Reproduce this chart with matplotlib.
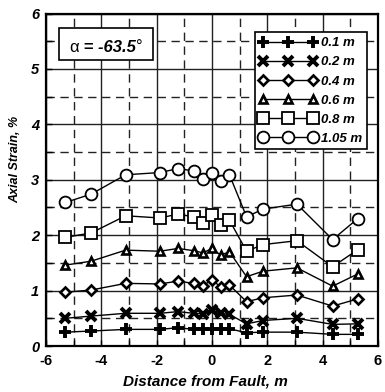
import matplotlib
matplotlib.use("Agg")
import matplotlib.pyplot as plt
from matplotlib.ticker import MultipleLocator
from matplotlib.patches import Rectangle

plt.rcParams['font.family'] = ['Liberation Sans', 'DejaVu Sans']
plt.rcParams['axes.unicode_minus'] = False

# Data
dist = [-5.3, -4.37, -3.12, -1.88, -1.24, -0.65, -0.33, 0.0, 0.31, 0.63,
        1.25, 1.84, 3.07, 4.36, 5.27]
s_01 = [0.25, 0.27, 0.30, 0.30, 0.33, 0.30, 0.30, 0.31, 0.31, 0.31,
        0.24, 0.25, 0.25, 0.21, 0.21]
s_02 = [0.50, 0.54, 0.59, 0.59, 0.62, 0.59, 0.58, 0.65, 0.59, 0.57,
        0.40, 0.46, 0.50, 0.39, 0.40]
s_04 = [0.97, 1.01, 1.13, 1.12, 1.17, 1.13, 1.09, 1.19, 1.07, 1.10,
        0.80, 0.87, 0.92, 0.72, 0.85]
s_06 = [1.46, 1.53, 1.73, 1.71, 1.76, 1.72, 1.68, 1.76, 1.64, 1.70,
        1.25, 1.35, 1.41, 1.08, 1.30]
s_08 = [1.96, 2.04, 2.35, 2.31, 2.38, 2.33, 2.22, 2.37, 2.18, 2.27,
        1.71, 1.83, 1.90, 1.43, 1.74]
s_105 = [2.59, 2.74, 3.09, 3.13, 3.20, 3.16, 3.01, 3.13, 2.97, 3.09,
         2.33, 2.47, 2.56, 1.92, 2.30]
labels = ['0.1 m', '0.2 m', '0.4 m', '0.6 m', '0.8 m', '1.05 m']

fig = plt.figure(figsize=(3.85, 3.92), dpi=100)
ax = fig.add_axes([46 / 385, 46 / 392, 332 / 385, 332.5 / 392])

ax.plot(dist, s_01, color='k', lw=1, marker='+', ms=8, mew=2.8, label=labels[0])
ax.plot(dist, s_02, color='k', lw=1, marker='x', ms=7, mew=2.8, label=labels[1])
ax.plot(dist, s_04, color='k', lw=1, marker='D', ms=5.5, mew=1.9, mfc='white', label=labels[2])
ax.plot(dist, s_06, color='k', lw=1, marker='^', ms=6, mew=1.9, mfc='white', label=labels[3])
ax.plot(dist, s_08, color='k', lw=1, marker='s', ms=8, mew=1.3, mfc='white', label=labels[4])
ax.plot(dist, s_105, color='k', lw=1, marker='o', ms=8.5, mew=1.3, mfc='white', label=labels[5])

ax.set_xlim(-6, 6)
ax.set_ylim(0, 6)
ax.xaxis.set_major_locator(MultipleLocator(2))
ax.xaxis.set_minor_locator(MultipleLocator(1))
ax.yaxis.set_major_locator(MultipleLocator(1))
ax.yaxis.set_minor_locator(MultipleLocator(0.5))
ax.grid(which='major', color='#222222', lw=1, ls='-')
ax.grid(which='minor', color='#222222', lw=1, ls=(0, (6, 4)))
ax.set_axisbelow(True)
ax.tick_params(which='both', direction='in', length=4, width=1)
ax.tick_params(axis='x', which='major', pad=6)
ax.tick_params(axis='y', which='major', pad=5)
for sp in ax.spines.values():
    sp.set_linewidth(1.6)

for t in ax.get_xticklabels():
    t.set_fontsize(10.5)
    t.set_fontweight('bold')
for t in ax.get_yticklabels():
    t.set_fontsize(10.5)
    t.set_fontweight('bold')
    t.set_fontstyle('italic')

ax.set_xlabel('Distance from Fault, m', fontsize=11, fontweight='bold',
              fontstyle='italic', labelpad=0)
ax.xaxis.set_label_coords(0.48, -0.085)
ax.set_ylabel('Axial Strain, %', fontsize=9, fontweight='bold',
              fontstyle='italic')
ax.yaxis.set_label_coords(-0.075, 0.56)

leg = ax.legend(loc='upper right', bbox_to_anchor=(0.967, 0.943), borderaxespad=0,
                numpoints=3, fancybox=False, framealpha=1, edgecolor='k',
                handlelength=4.4, borderpad=0.35, labelspacing=0.52,
                handletextpad=0.3, prop={'weight': 'bold', 'style': 'italic', 'size': 9.5})
leg.get_frame().set_linewidth(1.2)

# alpha annotation box
ax.add_patch(Rectangle((0.040, 0.86), 0.283, 0.095, transform=ax.transAxes,
                       fc='white', ec='k', lw=1.2, zorder=5))
t1 = ax.text(0.070, 0.885, 'α', transform=ax.transAxes, fontsize=12,
             ha='left', va='baseline', zorder=6)
t2 = ax.annotate(' = -63.5', xy=(1, 0), xycoords=t1, fontsize=12, fontweight='bold',
                 fontstyle='italic', ha='left', va='bottom', zorder=6)
t3 = ax.annotate('°', xy=(1, 0), xycoords=t2, fontsize=12, ha='left', va='bottom',
                 zorder=6)

fig.savefig('out.png', dpi=100)
